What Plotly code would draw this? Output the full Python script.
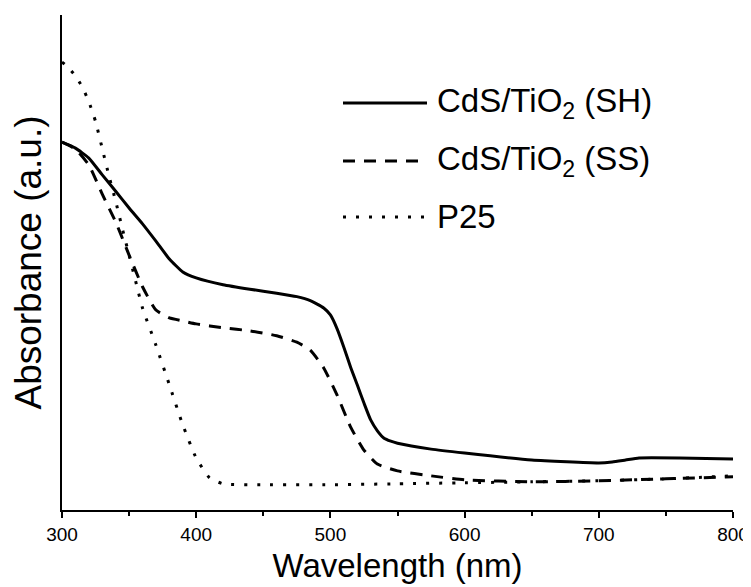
import plotly.graph_objects as go

# ---------------- data ----------------
wl_sh = [300, 310, 320, 330, 340, 350, 360, 370, 380, 390, 400, 420, 440, 460, 475,
         485, 495, 500, 505, 510, 515, 520, 525, 530, 535, 540, 545, 550, 575, 600, 650,
         700, 710, 720, 730, 760, 800]
abs_sh = [0.743, 0.731, 0.711, 0.677, 0.644, 0.610, 0.578, 0.543, 0.507, 0.481, 0.469,
          0.455, 0.446, 0.438, 0.431, 0.423, 0.408, 0.394, 0.366, 0.329, 0.289, 0.253,
          0.216, 0.182, 0.160, 0.145, 0.139, 0.135, 0.123, 0.115, 0.101, 0.095, 0.097,
          0.101, 0.105, 0.105, 0.103]

wl_ss = [300, 310, 320, 330, 340, 350, 360, 370, 380, 390, 400, 420, 440, 460, 475,
         485, 495, 505, 515, 525, 535, 550, 575, 600, 650, 700, 750, 800]
abs_ss = [0.743, 0.729, 0.697, 0.638, 0.582, 0.515, 0.451, 0.404, 0.388, 0.382, 0.376,
          0.368, 0.362, 0.352, 0.339, 0.323, 0.287, 0.232, 0.168, 0.121, 0.093, 0.079,
          0.069, 0.061, 0.057, 0.059, 0.063, 0.067]

wl_p25 = [300, 305, 310, 315, 320, 325, 330, 335, 340, 345, 350, 355, 360, 370, 380,
          390, 400, 410, 420, 450, 500, 550, 600, 650, 700, 750, 800]
abs_p25 = [0.905, 0.893, 0.877, 0.855, 0.825, 0.785, 0.730, 0.675, 0.624, 0.568, 0.515,
           0.461, 0.408, 0.333, 0.253, 0.172, 0.105, 0.065, 0.053, 0.051, 0.051, 0.053,
           0.055, 0.057, 0.059, 0.063, 0.069]

x_ticks = [300, 400, 500, 600, 700, 800]
series_names = ["CdS/TiO<sub>2</sub> (SH)", "CdS/TiO<sub>2</sub> (SS)", "P25"]

FONT = "Liberation Sans, Arial, sans-serif"
DASH = "12px,9px"
DOT = "3px,10px"

fig = go.Figure()
fig.add_trace(go.Scatter(x=wl_sh, y=abs_sh, mode="lines", name=series_names[0],
                         line=dict(color="black", width=3, shape="spline", smoothing=0.5)))
fig.add_trace(go.Scatter(x=wl_ss, y=abs_ss, mode="lines", name=series_names[1],
                         line=dict(color="black", width=3, dash=DASH, shape="spline", smoothing=0.5)))
fig.add_trace(go.Scatter(x=wl_p25, y=abs_p25, mode="lines", name=series_names[2],
                         line=dict(color="black", width=3, dash=DOT, shape="spline", smoothing=0.5)))

# manual legend (long sample lines as in the reference); positions in plot-area fractions
def px2paper(px, py):
    return (px - 62) / 671, (510 - py) / 495

legend_rows = [(103, None), (161, DASH), (217, DOT)]
for (py, dash), name in zip(legend_rows, series_names):
    x0, y0 = px2paper(343, py)
    x1, _ = px2paper(427, py)
    ln = dict(color="black", width=3)
    if dash:
        ln["dash"] = dash
    fig.add_shape(type="line", xref="paper", yref="paper", x0=x0, x1=x1, y0=y0, y1=y0, line=ln)
    tx, ty = px2paper(435, py)
    fig.add_annotation(xref="paper", yref="paper", x=tx, y=ty, text=name, showarrow=False,
                       xanchor="left", yanchor="middle",
                       font=dict(family=FONT, size=33, color="black"))

# the page body adds an 8px offset, so margins are shifted to compensate
fig.update_layout(
    width=751, height=587,
    margin=dict(l=54, r=26, t=7, b=85),
    paper_bgcolor="white", plot_bgcolor="white",
    showlegend=False,
    font=dict(family=FONT, color="black"),
    xaxis=dict(
        range=[300, 800], tickvals=x_ticks, ticktext=[str(v) for v in x_ticks],
        showline=True, linecolor="black", linewidth=1.5, mirror=False,
        ticks="outside", ticklen=6, tickwidth=1.5, tickcolor="black",
        minor=dict(dtick=50, ticks="outside", ticklen=4, tickwidth=1.5, tickcolor="black"),
        showgrid=False, zeroline=False,
        tickfont=dict(family=FONT, size=19, color="black"),
        title=dict(text="Wavelength (nm)", font=dict(family=FONT, size=33, color="black"),
                   standoff=10),
        automargin=False,
    ),
    yaxis=dict(
        range=[0, 1], showline=True, linecolor="black", linewidth=1.5,
        ticks="", showticklabels=False, showgrid=False, zeroline=False,
        title=dict(text="Absorbance (a.u.)", font=dict(family=FONT, size=37, color="black"),
                   standoff=9),
        automargin=False,
    ),
)

fig.write_html("out.html")
